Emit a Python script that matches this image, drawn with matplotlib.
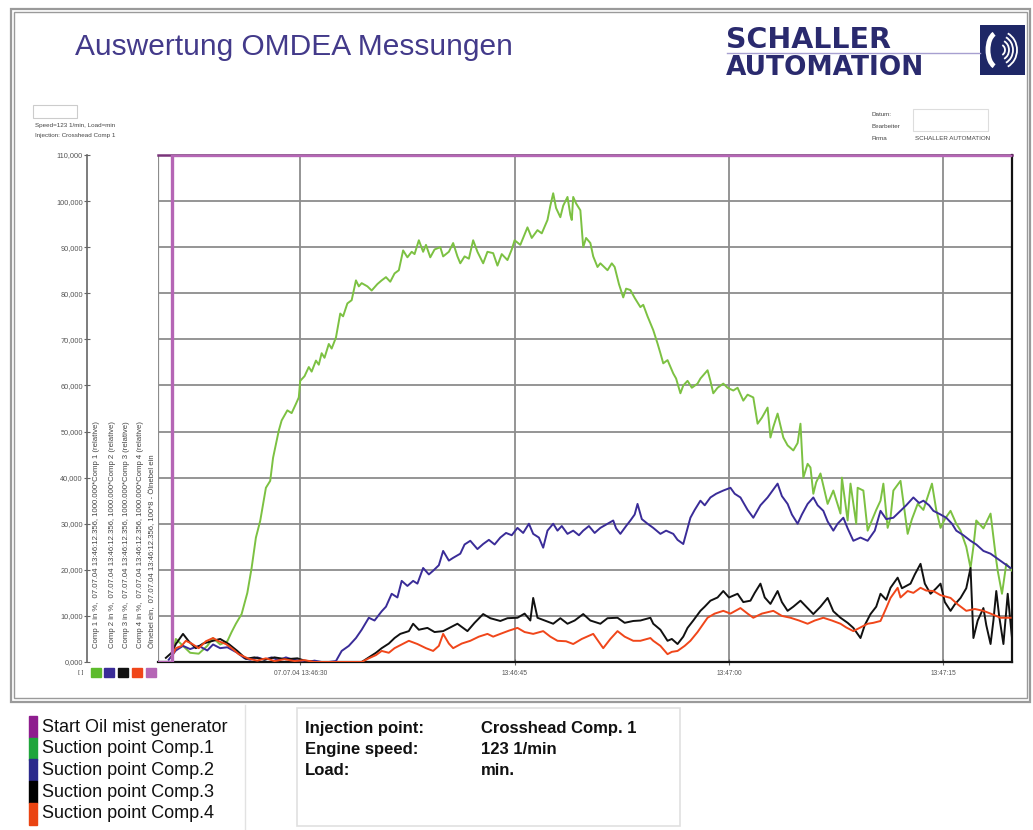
import numpy as np
import matplotlib
matplotlib.use("Agg")
import matplotlib.pyplot as plt
from matplotlib.patches import Rectangle, Arc

plt.rcParams['font.family'] = ['Liberation Sans', 'DejaVu Sans']

# time in seconds after 13:46:00, values in %
start_oil = [(20.0, 0.0), (21.0, 0.0), (21.0, 110.0), (80.0, 110.0)]

comp1 = [(21.0, 1.0), (21.3, 5.0), (21.8, 3.5), (22.3, 2.0), (22.9, 1.8), (23.5, 3.5), (23.9, 5.2),
         (24.4, 3.8), (24.9, 4.5), (25.2, 6.5), (25.5, 8.3), (25.9, 10.4), (26.3, 15.0), (26.6, 20.4),
         (26.9, 27.0), (27.2, 30.6), (27.6, 37.8), (27.9, 39.3), (28.1, 44.3), (28.5, 50.2), (28.7, 52.4),
         (29.1, 54.6), (29.4, 54.0), (29.7, 56.0), (29.9, 57.4), (30.0, 61.0), (30.3, 62.0), (30.6, 64.0),
         (30.8, 63.0), (31.1, 65.4), (31.3, 64.5), (31.5, 67.0), (31.7, 66.0), (32.0, 69.0), (32.2, 68.0),
         (32.5, 70.4), (32.8, 75.6), (33.0, 75.0), (33.3, 77.8), (33.6, 78.5), (33.9, 82.8), (34.1, 81.5),
         (34.3, 82.2), (34.7, 81.5), (35.0, 80.6), (35.4, 82.0), (35.7, 82.8), (36.0, 83.5), (36.3, 82.5),
         (36.6, 84.3), (36.9, 85.0), (37.2, 89.3), (37.5, 87.8), (37.8, 89.0), (38.0, 88.5), (38.3, 91.5),
         (38.6, 89.0), (38.8, 90.5), (39.1, 87.8), (39.4, 89.5), (39.8, 90.0), (40.0, 88.0), (40.4, 89.0),
         (40.7, 90.9), (41.0, 88.0), (41.2, 86.5), (41.5, 88.0), (41.8, 87.5), (42.1, 91.5), (42.4, 89.0),
         (42.8, 86.5), (43.1, 89.0), (43.5, 88.7), (43.8, 86.0), (44.1, 88.5), (44.5, 87.2), (44.8, 89.5),
         (45.0, 91.5), (45.4, 90.5), (45.9, 94.3), (46.2, 92.0), (46.6, 93.7), (46.9, 93.0), (47.3, 95.9),
         (47.5, 99.0), (47.7, 101.7), (47.9, 98.5), (48.2, 96.5), (48.4, 99.0), (48.7, 100.9), (48.9, 97.0),
         (49.0, 95.9), (49.1, 100.9), (49.3, 99.5), (49.6, 98.0), (49.8, 90.0), (50.0, 92.0), (50.3, 90.9),
         (50.5, 88.0), (50.8, 85.7), (51.0, 86.5), (51.5, 85.0), (51.8, 86.5), (52.0, 85.7), (52.3, 82.0),
         (52.6, 79.1), (52.8, 81.0), (53.1, 80.7), (53.4, 79.0), (53.8, 77.0), (54.0, 77.5), (54.3, 75.0),
         (54.5, 73.5), (54.7, 72.0), (55.0, 69.1), (55.2, 67.0), (55.4, 64.8), (55.7, 65.5), (56.1, 62.6),
         (56.3, 61.5), (56.6, 58.3), (56.8, 60.0), (57.1, 61.0), (57.4, 59.5), (57.8, 60.4), (58.0, 61.5),
         (58.5, 63.3), (58.7, 61.0), (58.9, 58.3), (59.2, 59.5), (59.6, 60.4), (59.9, 59.5), (60.3, 58.9),
         (60.6, 59.5), (61.0, 56.7), (61.3, 58.0), (61.7, 57.4), (62.0, 51.7), (62.3, 53.0), (62.7, 55.2),
         (62.9, 48.7), (63.1, 51.0), (63.4, 53.9), (63.8, 48.7), (64.1, 47.0), (64.5, 45.9), (64.8, 47.5),
         (65.0, 51.7), (65.2, 40.0), (65.5, 43.0), (65.7, 42.2), (65.9, 36.5), (66.1, 39.0), (66.4, 40.9),
         (66.9, 34.3), (67.3, 37.2), (67.8, 32.2), (67.9, 40.0), (68.3, 30.7), (68.5, 38.7), (68.9, 30.0),
         (69.0, 37.8), (69.4, 37.2), (69.7, 28.5), (69.9, 30.0), (70.3, 33.0), (70.6, 35.0), (70.8, 38.7),
         (71.1, 29.1), (71.3, 31.3), (71.5, 37.2), (72.0, 39.3), (72.5, 27.8), (72.8, 31.0), (73.2, 34.3),
         (73.6, 33.0), (74.2, 38.7), (74.5, 33.0), (74.8, 29.1), (75.1, 31.0), (75.5, 32.8), (75.9, 30.0),
         (76.2, 28.5), (76.6, 25.0), (76.9, 20.4), (77.1, 25.0), (77.3, 30.7), (77.8, 29.0), (78.3, 32.2),
         (78.7, 22.0), (78.8, 19.8), (79.1, 14.8), (79.4, 21.3), (79.8, 19.8)]

comp2 = [(20.8, 0.5), (21.3, 2.5), (21.8, 3.5), (22.3, 2.8), (22.9, 3.5), (23.5, 2.5), (23.9, 3.8),
         (24.4, 3.0), (24.9, 3.2), (25.6, 2.0), (26.1, 0.8), (26.5, 0.5), (27.0, 1.0), (27.5, 0.5),
         (28.0, 1.0), (28.5, 0.4), (29.0, 1.0), (29.5, 0.5), (30.0, 0.3), (30.5, 0.0), (31.0, 0.3),
         (31.5, 0.0), (32.0, 0.0), (32.5, 0.2), (32.9, 2.4), (33.4, 3.5), (33.9, 5.2), (34.3, 7.0),
         (34.8, 9.6), (35.2, 9.0), (35.7, 11.0), (36.0, 12.0), (36.4, 14.8), (36.8, 14.0), (37.1, 17.6),
         (37.5, 16.5), (37.9, 17.6), (38.2, 17.0), (38.6, 20.4), (39.0, 19.0), (39.3, 19.8), (39.7, 21.0),
         (40.0, 24.1), (40.4, 22.0), (40.7, 22.6), (41.2, 23.5), (41.5, 25.5), (41.9, 26.3), (42.4, 24.5),
         (42.8, 25.6), (43.2, 26.5), (43.6, 25.5), (44.0, 27.0), (44.4, 28.0), (44.8, 27.5), (45.2, 29.1),
         (45.6, 28.0), (46.0, 30.0), (46.3, 27.8), (46.7, 27.0), (47.0, 24.8), (47.3, 28.5), (47.7, 30.0),
         (48.0, 28.5), (48.3, 29.5), (48.7, 27.8), (49.1, 28.5), (49.5, 27.5), (49.8, 28.5), (50.2, 29.5),
         (50.6, 28.0), (51.0, 29.1), (51.5, 30.0), (51.9, 30.7), (52.1, 29.0), (52.4, 27.8), (52.8, 29.5),
         (53.1, 30.7), (53.4, 32.0), (53.6, 34.3), (53.9, 31.0), (54.3, 30.0), (54.7, 29.1), (55.2, 27.8),
         (55.6, 28.5), (56.1, 27.8), (56.4, 26.5), (56.8, 25.6), (57.3, 31.3), (57.6, 33.0), (58.0, 35.0),
         (58.3, 34.0), (58.7, 35.7), (59.1, 36.5), (59.6, 37.2), (60.1, 37.8), (60.4, 36.5), (60.8, 35.7),
         (61.3, 33.0), (61.7, 31.3), (62.2, 34.0), (62.7, 35.7), (63.0, 37.0), (63.4, 38.7), (63.7, 36.0),
         (64.1, 34.3), (64.4, 32.0), (64.8, 30.0), (65.1, 32.0), (65.5, 34.3), (65.9, 35.7), (66.2, 34.0),
         (66.6, 32.8), (66.9, 30.5), (67.3, 28.5), (67.6, 30.0), (68.0, 31.3), (68.3, 29.0), (68.7, 26.3),
         (69.2, 27.0), (69.7, 26.3), (70.2, 28.5), (70.6, 32.8), (71.0, 31.0), (71.5, 31.3), (72.0, 32.8),
         (72.4, 34.0), (72.9, 35.7), (73.3, 34.5), (73.6, 35.0), (74.0, 34.0), (74.3, 32.8), (74.8, 32.0),
         (75.2, 31.3), (75.6, 30.0), (75.9, 28.5), (76.4, 27.5), (76.9, 26.3), (77.3, 25.5), (77.8, 24.1),
         (78.3, 23.5), (78.7, 22.6), (79.2, 21.5), (79.7, 20.4)]

comp3 = [(20.6, 0.9), (21.0, 2.0), (21.3, 3.9), (21.8, 6.1), (22.2, 4.5), (22.7, 3.0), (23.2, 4.0),
         (23.9, 4.6), (24.4, 5.0), (25.0, 3.9), (25.6, 2.4), (26.2, 0.7), (26.8, 1.0), (27.5, 0.5),
         (28.2, 1.0), (29.0, 0.6), (29.8, 0.8), (30.3, 0.3), (31.0, 0.0), (32.0, 0.0), (33.0, 0.0),
         (34.3, 0.0), (34.8, 1.0), (35.3, 2.0), (35.7, 3.0), (36.2, 4.0), (36.6, 5.2), (37.0, 6.1),
         (37.6, 6.7), (37.9, 8.3), (38.3, 7.0), (38.9, 7.4), (39.4, 6.5), (40.0, 6.7), (40.5, 7.5),
         (41.0, 8.3), (41.7, 6.7), (42.2, 8.5), (42.8, 10.4), (43.3, 9.5), (44.0, 8.9), (44.5, 9.5),
         (45.2, 9.6), (45.7, 10.5), (46.1, 9.0), (46.3, 13.9), (46.6, 9.6), (47.1, 9.0), (47.7, 8.3),
         (48.2, 9.5), (48.7, 8.3), (49.2, 9.0), (49.8, 10.4), (50.3, 9.0), (51.0, 8.3), (51.5, 9.5),
         (52.2, 9.6), (52.7, 8.5), (53.3, 8.9), (53.8, 9.0), (54.5, 9.6), (54.7, 8.3), (55.2, 7.0),
         (55.7, 4.6), (56.0, 5.0), (56.4, 3.9), (56.8, 5.5), (57.1, 7.4), (57.5, 9.0), (58.0, 11.1),
         (58.3, 12.0), (58.7, 13.3), (59.2, 14.0), (59.6, 15.4), (60.0, 14.0), (60.6, 14.8), (61.0, 13.0),
         (61.5, 13.3), (61.8, 15.0), (62.2, 17.0), (62.5, 14.0), (62.9, 12.6), (63.4, 15.4), (63.7, 13.0),
         (64.1, 11.1), (64.5, 12.0), (65.0, 13.3), (65.4, 12.0), (65.9, 10.4), (66.4, 12.0), (66.9, 13.9),
         (67.3, 11.0), (67.8, 9.6), (68.3, 8.5), (68.7, 7.4), (69.2, 5.2), (69.5, 8.0), (69.9, 10.4),
         (70.3, 12.0), (70.6, 14.8), (71.0, 13.5), (71.3, 16.1), (71.8, 18.3), (72.1, 16.0), (72.7, 17.0),
         (73.0, 19.0), (73.4, 21.3), (73.7, 17.0), (74.1, 14.8), (74.5, 16.0), (74.8, 17.0), (75.1, 13.0),
         (75.5, 11.1), (75.8, 12.5), (76.2, 13.9), (76.6, 16.0), (76.9, 20.4), (77.1, 5.2), (77.4, 9.0),
         (77.8, 11.7), (78.0, 8.0), (78.3, 3.9), (78.5, 9.0), (78.7, 15.4), (78.9, 10.0), (79.2, 3.9),
         (79.5, 14.8), (79.8, 5.2)]

comp4 = [(21.0, 1.0), (21.3, 3.0), (21.7, 3.5), (22.0, 4.6), (22.4, 4.0), (22.9, 3.0), (23.4, 4.5),
         (23.9, 5.2), (24.3, 4.5), (24.8, 3.9), (25.2, 3.0), (25.7, 1.7), (26.4, 0.7), (27.0, 0.3),
         (27.6, 0.8), (28.2, 0.2), (28.9, 0.6), (29.6, 0.2), (30.3, 0.4), (31.0, 0.0), (32.0, 0.0),
         (33.0, 0.0), (34.3, 0.0), (34.8, 0.8), (35.3, 1.5), (35.7, 2.4), (36.2, 2.0), (36.6, 3.0),
         (37.1, 3.8), (37.6, 4.6), (38.2, 3.9), (38.8, 3.0), (39.3, 2.4), (39.7, 3.5), (40.0, 6.1),
         (40.4, 4.0), (40.7, 3.0), (41.3, 4.0), (41.9, 4.6), (42.5, 5.5), (43.1, 6.1), (43.5, 5.5),
         (44.0, 6.1), (44.6, 6.8), (45.2, 7.4), (45.7, 6.5), (46.3, 6.1), (47.0, 6.7), (47.5, 5.5),
         (48.0, 4.6), (48.6, 4.5), (49.1, 3.9), (49.7, 5.0), (50.5, 6.1), (51.2, 3.0), (51.7, 5.0),
         (52.2, 6.7), (52.7, 5.5), (53.3, 4.6), (53.8, 4.6), (54.5, 5.2), (54.7, 4.6), (55.2, 3.5),
         (55.7, 1.7), (56.0, 2.2), (56.4, 2.4), (56.9, 3.5), (57.3, 4.6), (57.8, 6.5), (58.5, 9.6),
         (59.0, 10.5), (59.6, 11.1), (60.1, 10.5), (60.8, 11.7), (61.3, 10.5), (61.7, 9.6), (62.3, 10.5),
         (63.1, 11.1), (63.7, 10.0), (64.3, 9.6), (64.9, 9.0), (65.5, 8.3), (66.0, 9.0), (66.6, 9.6),
         (67.2, 9.0), (67.8, 8.3), (68.2, 7.5), (68.7, 6.7), (69.2, 7.5), (69.7, 8.3), (70.1, 8.5),
         (70.6, 8.9), (71.0, 11.7), (71.3, 13.9), (71.8, 16.1), (72.0, 14.0), (72.5, 15.4), (72.9, 15.0),
         (73.4, 16.1), (73.8, 15.5), (74.3, 15.4), (74.8, 14.5), (75.5, 13.9), (76.0, 12.5), (76.6, 11.1),
         (77.2, 11.5), (77.8, 11.1), (78.3, 10.5), (79.0, 9.6), (79.7, 9.6)]

x_ticks = [30, 45, 60, 75]
x_labels = ["07.07.04 13:46:30", "13:46:45", "13:47:00", "13:47:15"]
y_ticks = list(range(0, 111, 10))

channel_texts = ["Comp 1 in %,  07.07.04 13:46:12.356, 1000.000*Comp 1 (relative)",
                 "Comp 2 in %,  07.07.04 13:46:12.356, 1000.000*Comp 2 (relative)",
                 "Comp 3 in %,  07.07.04 13:46:12.356, 1000.000*Comp 3 (relative)",
                 "Comp 4 in %,  07.07.04 13:46:12.356, 1000.000*Comp 4 (relative)",
                 "Ölnebel ein,  07.07.04 13:46:12.356, 100*8 - Ölnebel ein"]

legend_labels = ["Start Oil mist generator", "Suction point Comp.1", "Suction point Comp.2",
                 "Suction point Comp.3", "Suction point Comp.4"]
info_keys = ["Injection point:", "Engine speed:", "Load:"]
info_vals = ["Crosshead Comp. 1", "123 1/min", "min."]

line_colors = ["#b566b5", "#7cc142", "#3a2c98", "#111111", "#f0461a"]
legend_colors = ["#8e1d8e", "#1fa53b", "#2b2a8c", "#000000", "#ea4412"]

W, H = 1033, 830


def fx(px):
    return px / W


def fy(py):
    return 1 - py / H


fig = plt.figure(figsize=(W / 100, H / 100), dpi=100)

# outer gray frame of the screenshot
for (l, t, r, b), lw in [((11, 9, 1030, 702), 1.6), ((14, 12, 1027, 698), 1.0)]:
    fig.add_artist(Rectangle((fx(l), fy(b)), (r - l) / W, (b - t) / H, transform=fig.transFigure,
                             fill=False, edgecolor="#9a9a9a", lw=lw))

# title and logo
fig.text(fx(75), fy(47), "Auswertung OMDEA Messungen", fontsize=21.5, color="#433a8a",
         ha="left", va="center")
fig.text(fx(726), fy(40), "SCHALLER", fontsize=20.5, color="#2a2a6e", fontweight="bold",
         family="DejaVu Sans", ha="left", va="center")
fig.text(fx(726), fy(68), "AUTOMATION", fontsize=19, color="#2a2a6e", fontweight="bold",
         family="DejaVu Sans", ha="left", va="center")
fig.add_artist(plt.Line2D([fx(727), fx(980)], [fy(53), fy(53)], transform=fig.transFigure,
                          color="#a79fd0", lw=1))

ax_logo = fig.add_axes([fx(980), fy(75), 45 / W, 50 / H])
ax_logo.set_xlim(0, 45)
ax_logo.set_ylim(0, 50)
ax_logo.axis("off")
ax_logo.add_patch(Rectangle((0, 0), 45, 50, color="#1e2766"))
ax_logo.add_patch(Arc((17, 25), 18, 34, theta1=100, theta2=260, color="white", lw=3.5))
for r in [5, 9, 13, 17]:
    ax_logo.add_patch(Arc((20, 25), r * 2, r * 2.2, theta1=-65, theta2=65, color="white", lw=1.3))

# small header texts
fig.add_artist(Rectangle((fx(33), fy(118)), 44 / W, 13 / H, transform=fig.transFigure,
                         fill=False, edgecolor="#cccccc", lw=0.8))
fig.text(fx(35), fy(126), "Speed=123 1/min, Load=min", fontsize=4.5, color="#444444", va="center")
fig.text(fx(35), fy(135), "Injection: Crosshead Comp 1", fontsize=4.5, color="#444444", va="center")
fig.text(fx(872), fy(115), "Datum:", fontsize=4.5, color="#444444", va="center")
fig.text(fx(872), fy(126), "Bearbeiter", fontsize=4.5, color="#444444", va="center")
fig.text(fx(872), fy(138), "Firma", fontsize=4.5, color="#444444", va="center")
fig.text(fx(915), fy(138), "SCHALLER AUTOMATION", fontsize=4.5, color="#444444", va="center")
fig.add_artist(Rectangle((fx(913), fy(131)), 75 / W, 22 / H, transform=fig.transFigure,
                         fill=False, edgecolor="#dddddd", lw=0.8))

# main plot
ax = fig.add_axes([fx(158), fy(662), (1012 - 158) / W, (662 - 155) / H])
ax.set_xlim(20.05, 79.8)
ax.set_ylim(0, 110)

series = [comp1, comp2, comp3, comp4]
for data, c in zip(series, line_colors[1:]):
    t, v = np.array(data).T
    ax.plot(t, v, color=c, lw=1.4, zorder=3)
t, v = np.array(start_oil).T
ax.plot(t, v, color=line_colors[0], lw=2.4, zorder=4)

ax.grid(True, color="#8c8c8c", lw=1.3)
ax.set_axisbelow(True)
ax.axvline(20.05, color="#8c8c8c", lw=1.6, zorder=1)

ax.spines["left"].set_position(("outward", 51))
ax.spines["left"].set_color("#666666")
ax.spines["left"].set_linewidth(1.2)
ax.spines["top"].set_color("#7a347a")
ax.spines["top"].set_linewidth(1.8)
ax.spines["right"].set_color("#111111")
ax.spines["right"].set_linewidth(1.6)
ax.spines["bottom"].set_color("#111111")
ax.spines["bottom"].set_linewidth(1.6)

# ticks after moving the spine (set_position resets the ticks)
ax.set_xticks(x_ticks)
ax.set_xticklabels(x_labels)
ax.set_yticks(y_ticks)
ax.set_yticklabels([f"{v:.3f}".replace(".", ",") for v in y_ticks])
ax.tick_params(axis="y", direction="inout", length=4, width=0.8, color="#666666", pad=1,
               labelsize=5.3, labelcolor="#555555")
ax.tick_params(axis="x", direction="inout", length=4, width=0.8, color="#666666", pad=4,
               labelsize=4.8, labelcolor="#555555")

# rotated channel descriptions between the y axis and the plot
for xp, s in zip([97, 112, 126, 140, 153], channel_texts):
    fig.text(fx(xp), fy(648), s, rotation=90, fontsize=5.6, color="#444444", ha="center", va="bottom")
fig.text(fx(81), fy(672), "[ ]", fontsize=4.5, color="#444444", ha="center", va="center")
for xp, c in zip([91, 104, 118, 132, 146], line_colors[1:] + line_colors[:1]):
    fig.add_artist(Rectangle((fx(xp), fy(677)), 10 / W, 9 / H, transform=fig.transFigure,
                             color="#5dbb2c" if c == "#7cc142" else c))

# legend below the chart
for i, (lab, c) in enumerate(zip(legend_labels, legend_colors)):
    yc = 727 + i * 21.7
    fig.add_artist(Rectangle((fx(29), fy(yc + 10.8)), 8 / W, 21.7 / H, transform=fig.transFigure, color=c))
    fig.text(fx(42), fy(yc), lab, fontsize=13, color="#111111", va="center")
fig.add_artist(plt.Line2D([fx(245), fx(245)], [fy(705), fy(830)], transform=fig.transFigure,
                          color="#e2e2e2", lw=1))

fig.add_artist(Rectangle((fx(297), fy(826)), (680 - 297) / W, (826 - 708) / H, transform=fig.transFigure,
                         fill=False, edgecolor="#e0e0e0", lw=1.2))
for i, (k, val) in enumerate(zip(info_keys, info_vals)):
    yc = 728 + i * 21
    fig.text(fx(305), fy(yc), k, fontsize=12, fontweight="bold", color="#111111", va="center")
    fig.text(fx(481), fy(yc), val, fontsize=12, fontweight="bold", color="#111111", va="center")

fig.savefig("out.png", dpi=100)
